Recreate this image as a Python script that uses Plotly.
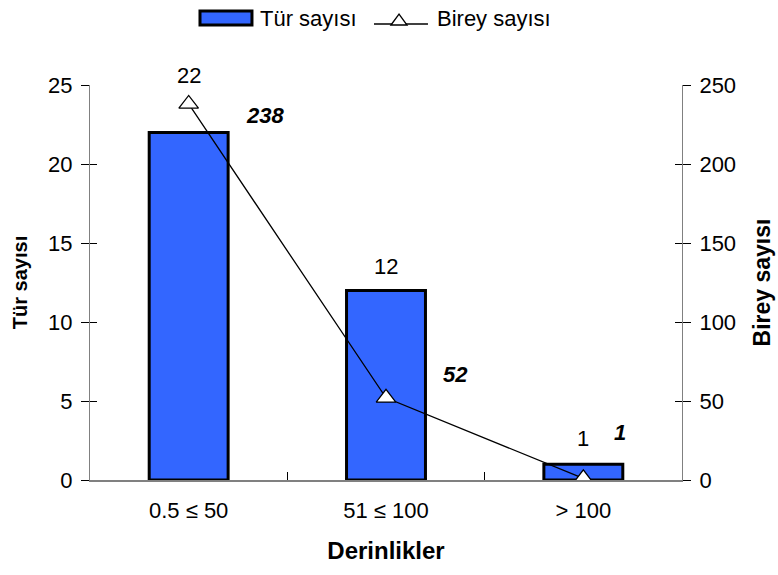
import plotly.graph_objects as go

# Depth classes and counts
categories = ["0.5 ≤ 50", "51 ≤ 100", "> 100"]
species_counts = [22, 12, 1]        # Tür sayısı (left axis)
individual_counts = [238, 52, 1]    # Birey sayısı (right axis)

FONT = "Liberation Sans, Arial, sans-serif"
BAR_COLOR = "#3366FF"
TICK_SIZE = 22

fig = go.Figure()

fig.add_trace(go.Bar(
    x=categories, y=species_counts, name="Tür sayısı",
    marker=dict(color=BAR_COLOR, line=dict(color="black", width=3)),
    width=0.4, yaxis="y", showlegend=False,
))

fig.add_trace(go.Scatter(
    x=categories, y=individual_counts, name="Birey sayısı",
    mode="lines+markers", yaxis="y2", showlegend=False,
    line=dict(color="black", width=1.3),
    marker=dict(symbol="triangle-up", size=17, color="white",
                line=dict(color="black", width=1.3)),
))

# value labels: bar counts above bars, individual counts in bold italic
bar_label_shift = [57, 24, 26]
for c, v, s in zip(categories, species_counts, bar_label_shift):
    fig.add_annotation(x=c, y=v, yref="y", text=str(v), showarrow=False,
                       yshift=s, font=dict(size=22, color="black", family=FONT))

line_label_shift = [(76, -12), (69, 23), (37, 46)]
for c, v, (dx, dy) in zip(categories, individual_counts, line_label_shift):
    fig.add_annotation(x=c, y=v, yref="y2", text=f"<b><i>{v}</i></b>",
                       showarrow=False, xshift=dx, yshift=dy,
                       font=dict(size=22, color="black", family=FONT))

# legend drawn above the plot area
fig.add_shape(type="rect", xref="paper", yref="paper",
              x0=0.1858, x1=0.2736, y0=1.1519, y1=1.1873,
              fillcolor=BAR_COLOR, line=dict(color="black", width=3))
fig.add_annotation(xref="paper", yref="paper", x=0.2838, y=1.1696,
                   xanchor="left", yanchor="middle", text="Tür sayısı",
                   showarrow=False, font=dict(size=22, family=FONT, color="black"))
fig.add_shape(type="line", xref="paper", yref="paper",
              x0=0.4797, x1=0.5709, y0=1.1544, y1=1.1544,
              line=dict(color="black", width=1.3))
fig.add_shape(type="path", xref="paper", yref="paper",
              path="M 0.5084 1.1519 L 0.5220 1.1797 L 0.5355 1.1519 Z",
              fillcolor="white", line=dict(color="black", width=1.3))
fig.add_annotation(xref="paper", yref="paper", x=0.5828, y=1.1696,
                   xanchor="left", yanchor="middle", text="Birey sayısı",
                   showarrow=False, font=dict(size=22, family=FONT, color="black"))

axis_common = dict(showgrid=False, zeroline=False, linecolor="#808080",
                   tickcolor="black", tickwidth=1,
                   tickfont=dict(size=TICK_SIZE, color="black", family=FONT))

fig.update_layout(
    width=778, height=575,
    margin=dict(l=90, r=96, t=85, b=95, autoexpand=False),
    plot_bgcolor="white", paper_bgcolor="white",
    font=dict(family=FONT, color="black"),
    xaxis=dict(
        **axis_common, linewidth=2, range=[-0.5, 2.5],
        ticks="inside", ticklen=8, tickson="boundaries", ticklabelstandoff=10,
        title=dict(text="<b>Derinlikler</b>", font=dict(size=24), standoff=20),
    ),
    yaxis=dict(
        **axis_common, linewidth=1, range=[0, 25], dtick=5, showline=True,
        ticks="outside", ticklen=8, ticklabelstandoff=4,
        title=dict(text="<b>Tür sayısı</b>", font=dict(size=20), standoff=15),
    ),
    yaxis2=dict(
        **axis_common, linewidth=1, range=[0, 250], dtick=50, overlaying="y",
        side="right", showline=True, ticks="outside", ticklen=8,
        ticklabelstandoff=4,
        title=dict(text="<b>Birey sayısı</b>", font=dict(size=23), standoff=18),
    ),
    yaxis3=dict(range=[0, 25], dtick=5, overlaying="y", side="left",
                showticklabels=False, showgrid=False, zeroline=False,
                ticks="inside", ticklen=7, tickcolor="black", showline=False),
    yaxis4=dict(range=[0, 250], dtick=50, overlaying="y", side="right",
                showticklabels=False, showgrid=False, zeroline=False,
                ticks="inside", ticklen=7, tickcolor="black", showline=False),
)

# invisible helper traces carry the inner halves of the crossing tick marks
fig.add_trace(go.Scatter(x=categories, y=[None] * 3, yaxis="y3",
                         showlegend=False, hoverinfo="skip"))
fig.add_trace(go.Scatter(x=categories, y=[None] * 3, yaxis="y4",
                         showlegend=False, hoverinfo="skip"))

fig.write_html("out.html")
